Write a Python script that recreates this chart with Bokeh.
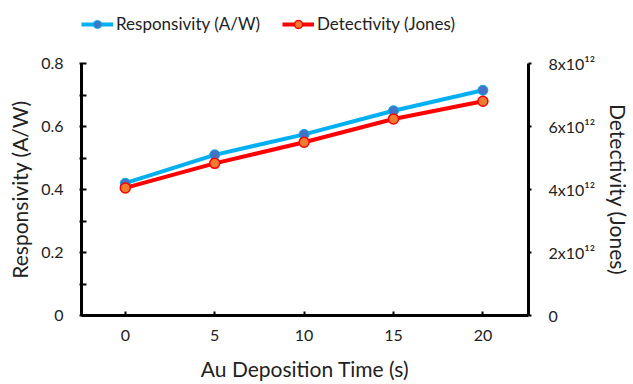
from bokeh.plotting import figure
from bokeh.layouts import column
from bokeh.models import Range1d, LinearAxis, FixedTicker, Legend, LegendItem
from bokeh.embed import file_html
from bokeh.resources import INLINE

time_s = [0, 5, 10, 15, 20]
responsivity = [0.42, 0.51, 0.575, 0.65, 0.715]
detectivity = [4.05e12, 4.83e12, 5.50e12, 6.24e12, 6.80e12]

resp_ticks = [0, 0.2, 0.4, 0.6, 0.8]
resp_labels = {0: "0", 0.2: "0.2", 0.4: "0.4", 0.6: "0.6", 0.8: "0.8"}
det_ticks = [0, 2e12, 4e12, 6e12, 8e12]
det_labels = {0: "0", 2e12: "2x10¹²", 4e12: "4x10¹²", 6e12: "6x10¹²", 8e12: "8x10¹²"}
x_ticks = [0, 5, 10, 15, 20]

FONT = "Lato"
TXT = "#222222"
BLUE_LINE, BLUE_MARK = "#00B0F0", "#4472C4"
RED_LINE, RED_MARK = "#FF0000", "#ED7D31"

# ---------------- main chart ----------------
p = figure(width=633, height=334, output_backend="svg", toolbar_location=None,
           x_range=Range1d(-2.45, 22.55), y_range=Range1d(0, 0.8),
           min_border_left=81, min_border_right=100, min_border_top=13, min_border_bottom=69)
p.outline_line_color = None
p.xgrid.visible = False
p.ygrid.visible = False
p.extra_y_ranges = {"det": Range1d(0, 8e12)}

for ax in [p.xaxis[0], p.yaxis[0]]:
    ax.axis_line_width = 3
    ax.axis_line_color = "black"
    ax.major_tick_line_width = 2
    ax.minor_tick_line_width = 2
    ax.major_label_text_font = FONT
    ax.major_label_text_font_size = "16px"
    ax.major_label_text_color = TXT
    ax.axis_label_text_font = FONT
    ax.axis_label_text_font_style = "normal"
    ax.axis_label_text_color = TXT

p.xaxis.ticker = FixedTicker(ticks=x_ticks)
p.xaxis.major_tick_in = 4
p.xaxis.major_tick_out = 0
p.xaxis.major_label_standoff = 14
p.xaxis.axis_label = "Au Deposition Time (s)"
p.xaxis.axis_label_text_font_size = "21px"
p.xaxis.axis_label_standoff = 12

p.yaxis.ticker = FixedTicker(ticks=resp_ticks, minor_ticks=[0.1, 0.3, 0.5, 0.7])
p.yaxis.major_label_overrides = resp_labels
p.yaxis.major_tick_in = 5
p.yaxis.major_tick_out = 2
p.yaxis.minor_tick_in = 5
p.yaxis.minor_tick_out = 2
p.yaxis.major_label_standoff = 16
p.yaxis.axis_label = "Responsivity (A/W)"
p.yaxis.axis_label_text_font_size = "21px"
p.yaxis.axis_label_standoff = 6

rax = LinearAxis(y_range_name="det", ticker=FixedTicker(ticks=det_ticks),
                 major_label_overrides=det_labels, axis_label="Detectivity (Jones)")
rax.axis_line_width = 3
rax.axis_line_color = "black"
rax.major_tick_line_width = 2
rax.major_tick_in = 0
rax.major_tick_out = 3
rax.minor_tick_line_color = None
rax.major_label_standoff = 17
rax.major_label_text_font = FONT
rax.major_label_text_font_size = "16px"
rax.major_label_text_color = TXT
rax.axis_label_text_font = FONT
rax.axis_label_text_font_style = "normal"
rax.axis_label_text_font_size = "21px"
rax.axis_label_text_color = TXT
rax.axis_label_standoff = 8
p.add_layout(rax, "right")

p.line(time_s, responsivity, line_color=BLUE_LINE, line_width=4)
p.scatter(time_s, responsivity, size=10, fill_color=BLUE_MARK, line_color=BLUE_LINE, line_width=1)
p.line(time_s, detectivity, y_range_name="det", line_color=RED_LINE, line_width=4)
p.scatter(time_s, detectivity, y_range_name="det", size=10, fill_color=RED_MARK, line_color=RED_LINE, line_width=1.5)

# ---------------- legend strip on top ----------------
lg = figure(width=633, height=50, output_backend="svg", toolbar_location=None,
            x_range=Range1d(1000, 1001), y_range=Range1d(1000, 1001),
            x_axis_type=None, y_axis_type=None, min_border=0)
lg.outline_line_color = None
lg.xgrid.visible = False
lg.ygrid.visible = False
l1 = lg.line(time_s, responsivity, line_color=BLUE_LINE, line_width=4)
m1 = lg.scatter(time_s, responsivity, size=10, fill_color=BLUE_MARK, line_color=BLUE_LINE, line_width=1)
l2 = lg.line(time_s, responsivity, line_color=RED_LINE, line_width=4)
m2 = lg.scatter(time_s, responsivity, size=10, fill_color=RED_MARK, line_color=RED_LINE, line_width=1.5)

legend = Legend(items=[LegendItem(label="Responsivity (A/W)", renderers=[l1, m1]),
                       LegendItem(label="Detectivity (Jones)", renderers=[l2, m2])],
                orientation="horizontal", location=(0, 16))
legend.label_text_font = FONT
legend.label_text_font_size = "17px"
legend.label_text_color = TXT
legend.glyph_width = 32
legend.glyph_height = 20
legend.spacing = 22
legend.padding = 0
legend.margin = 0
legend.label_standoff = 3
legend.border_line_color = None
legend.background_fill_alpha = 0
lg.add_layout(legend, "center")

layout = column(lg, p, spacing=0)
open("out.html", "w").write(file_html(layout, INLINE))
